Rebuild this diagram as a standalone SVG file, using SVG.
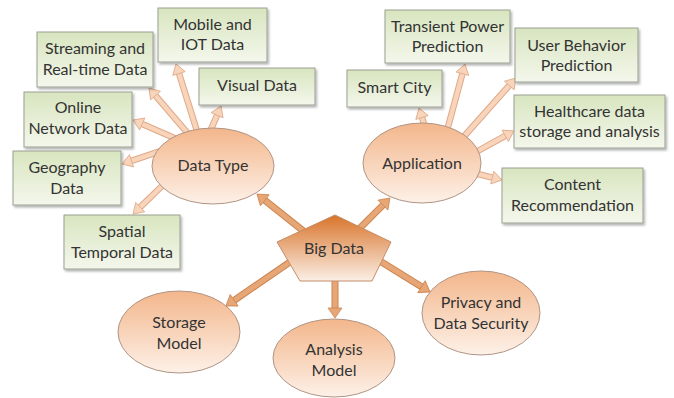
<svg xmlns="http://www.w3.org/2000/svg" width="674" height="398" viewBox="0 0 674 398">
<defs>
<linearGradient id="gBox" x1="0" y1="0" x2="0" y2="1"><stop offset="0" stop-color="#d8e5bf"/><stop offset="1" stop-color="#f4f7ec"/></linearGradient>
<linearGradient id="gEll" x1="0" y1="0" x2="0" y2="1"><stop offset="0" stop-color="#f3b68b"/><stop offset="1" stop-color="#fdf1e8"/></linearGradient>
<linearGradient id="gPent" x1="0" y1="0" x2="0" y2="1"><stop offset="0" stop-color="#d8742a"/><stop offset="1" stop-color="#fbefe6"/></linearGradient>
<filter id="sh" x="-10%" y="-10%" width="130%" height="140%"><feDropShadow dx="1.5" dy="2" stdDeviation="1.2" flood-color="#000" flood-opacity="0.3"/></filter>
<marker id="hL" markerUnits="userSpaceOnUse" markerWidth="14" markerHeight="16" viewBox="-1 -8 12 16" refX="0" refY="0" orient="auto"><path d="M0,-6.5 L10,0 L0,6.5 Z" fill="#f8d4ba" stroke="#dfa988" stroke-width="0.8"/></marker>
<marker id="hD" markerUnits="userSpaceOnUse" markerWidth="14" markerHeight="18" viewBox="-1 -9 12 18" refX="0" refY="0" orient="auto"><path d="M0,-7 L10,0 L0,7 Z" fill="#e6a676" stroke="#cc8550" stroke-width="0.8"/></marker>
</defs>
<style>
.box{fill:url(#gBox);stroke:#9a9f92;stroke-width:1;filter:url(#sh)}
.ell{fill:url(#gEll);stroke:#b09484;stroke-width:1}
.pent{fill:url(#gPent);stroke:#c58c66;stroke-width:1}
text{font-family:Lato,"Open Sans","Liberation Sans",sans-serif;font-size:16px;fill:#333;text-anchor:middle}
.lo{stroke:#dfa988;stroke-width:6.5;fill:none}
.li{stroke:#f8d4ba;stroke-width:4.5;fill:none;marker-end:url(#hL)}
.do{stroke:#cc8550;stroke-width:7;fill:none}
.di{stroke:#e6a676;stroke-width:5;fill:none;marker-end:url(#hD)}
</style>
<rect width="674" height="398" fill="#fff"/>
<g id="connectors">
<line class="lo" x1="197.5" y1="132.8" x2="179" y2="73.5"/><line class="li" x1="197.5" y1="132.8" x2="179" y2="73.5"/>
<line class="lo" x1="188.9" y1="134.6" x2="155.5" y2="95.6"/><line class="li" x1="188.9" y1="134.6" x2="155.5" y2="95.6"/>
<line class="lo" x1="210" y1="131.6" x2="217.1" y2="115.2"/><line class="li" x1="210" y1="131.6" x2="217.1" y2="115.2"/>
<line class="lo" x1="176.6" y1="139" x2="142.2" y2="124"/><line class="li" x1="176.6" y1="139" x2="142.2" y2="124"/>
<line class="lo" x1="162.7" y1="150.4" x2="131.5" y2="160.8"/><line class="li" x1="162.7" y1="150.4" x2="131.5" y2="160.8"/>
<line class="lo" x1="163.6" y1="184.5" x2="140.2" y2="207.1"/><line class="li" x1="163.6" y1="184.5" x2="140.2" y2="207.1"/>
<line class="lo" x1="425.5" y1="128.8" x2="422" y2="117.5"/><line class="li" x1="425.5" y1="128.8" x2="422" y2="117.5"/>
<line class="lo" x1="446.7" y1="131.8" x2="462.4" y2="73.7"/><line class="li" x1="446.7" y1="131.8" x2="462.4" y2="73.7"/>
<line class="lo" x1="461.7" y1="139" x2="509.3" y2="85.5"/><line class="li" x1="461.7" y1="139" x2="509.3" y2="85.5"/>
<line class="lo" x1="473.4" y1="153.5" x2="505.2" y2="135.8"/><line class="li" x1="473.4" y1="153.5" x2="505.2" y2="135.8"/>
<line class="lo" x1="474.1" y1="173" x2="492.3" y2="177.6"/><line class="li" x1="474.1" y1="173" x2="492.3" y2="177.6"/>
<line class="do" x1="305.9" y1="233.1" x2="264.8" y2="200.3"/><line class="di" x1="305.9" y1="233.1" x2="264.8" y2="200.3"/>
<line class="do" x1="356.5" y1="231.5" x2="382.9" y2="205.1"/><line class="di" x1="356.5" y1="231.5" x2="382.9" y2="205.1"/>
<line class="do" x1="294.1" y1="259.2" x2="234.2" y2="300.3"/><line class="di" x1="294.1" y1="259.2" x2="234.2" y2="300.3"/>
<line class="do" x1="335" y1="275" x2="335" y2="308"/><line class="di" x1="335" y1="275" x2="335" y2="308"/>
<line class="do" x1="375" y1="258" x2="421.5" y2="286.7"/><line class="di" x1="375" y1="258" x2="421.5" y2="286.7"/>
</g>
<g id="n-mobile"><rect class="box" x="158" y="8" width="109" height="54"/><text x="212.5" y="30">Mobile and</text><text x="212.5" y="50">IOT Data</text></g>
<g id="n-streaming"><rect class="box" x="37" y="32" width="116" height="55"/><text x="95" y="54">Streaming and</text><text x="95" y="75">Real-time Data</text></g>
<g id="n-visual"><rect class="box" x="199" y="68" width="116" height="37"/><text x="257" y="91">Visual Data</text></g>
<g id="n-online"><rect class="box" x="24" y="92" width="108" height="55"/><text x="78" y="113">Online</text><text x="78" y="134">Network Data</text></g>
<g id="n-geo"><rect class="box" x="13" y="151" width="108" height="54"/><text x="67" y="173">Geography</text><text x="67" y="194">Data</text></g>
<g id="n-spatial"><rect class="box" x="64" y="215" width="116" height="54"/><text x="122" y="237">Spatial</text><text x="122" y="258">Temporal Data</text></g>
<g id="n-transient"><rect class="box" x="385" y="10" width="125" height="53"/><text x="447.5" y="32">Transient Power</text><text x="447.5" y="52">Prediction</text></g>
<g id="n-user"><rect class="box" x="515" y="28" width="123" height="54"/><text x="576.5" y="51">User Behavior</text><text x="576.5" y="71">Prediction</text></g>
<g id="n-smart"><rect class="box" x="347" y="70" width="95" height="37"/><text x="394.5" y="93">Smart City</text></g>
<g id="n-health"><rect class="box" x="514" y="95" width="151" height="53"/><text x="589.5" y="117">Healthcare data</text><text x="589.5" y="137">storage and analysis</text></g>
<g id="n-content"><rect class="box" x="502" y="168" width="141" height="55"/><text x="572.5" y="190">Content</text><text x="572.5" y="211">Recommendation</text></g>
<g id="n-datatype"><ellipse class="ell" cx="213" cy="166" rx="61" ry="38"/><text x="213" y="171">Data Type</text></g>
<g id="n-application"><ellipse class="ell" cx="422" cy="163" rx="59" ry="40"/><text x="422" y="169">Application</text></g>
<g id="n-storage"><ellipse class="ell" cx="179" cy="332" rx="61" ry="41"/><text x="179" y="328">Storage</text><text x="179" y="349">Model</text></g>
<g id="n-analysis"><ellipse class="ell" cx="334" cy="358" rx="61" ry="39"/><text x="334" y="355">Analysis</text><text x="334" y="376">Model</text></g>
<g id="n-privacy"><ellipse class="ell" cx="481" cy="313" rx="59" ry="42"/><text x="481" y="308">Privacy and</text><text x="481" y="329">Data Security</text></g>
<g id="n-bigdata"><polygon class="pent" points="335,215 391,242 372,281 300,281 277,242"/><text x="334" y="254">Big Data</text></g>
</svg>
